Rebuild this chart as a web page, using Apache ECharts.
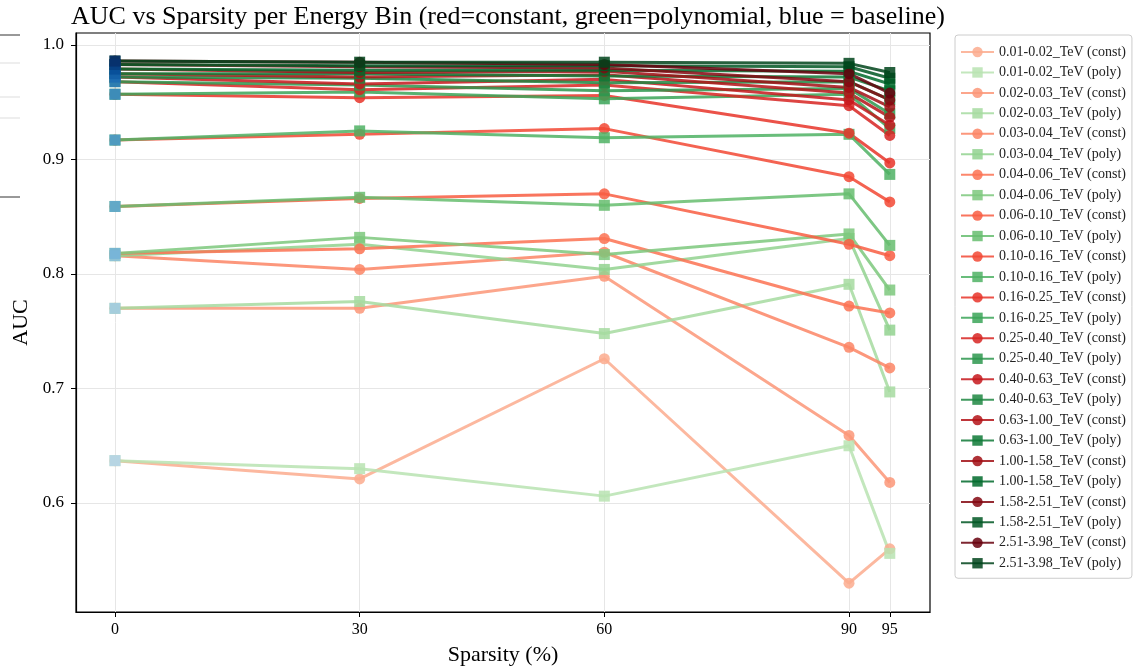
<!DOCTYPE html>
<html>
<head>
<meta charset="utf-8">
<script src="https://cdn.jsdelivr.net/npm/echarts@6/dist/echarts.min.js"></script>
<style>
html,body{margin:0;padding:0;background:#fff;}
#chart{width:1138px;height:668px;}
</style>
</head>
<body>
<div id="chart"></div>
<script>
// ---------------- DATA ----------------
const sparsity = [0, 30, 60, 90, 95];
const xTicks = [0, 30, 60, 90, 95];
const yTicks = [0.6, 0.7, 0.8, 0.9, 1.0];
const energyBins = ['0.01-0.02_TeV','0.02-0.03_TeV','0.03-0.04_TeV','0.04-0.06_TeV','0.06-0.10_TeV','0.10-0.16_TeV','0.16-0.25_TeV','0.25-0.40_TeV','0.40-0.63_TeV','0.63-1.00_TeV','1.00-1.58_TeV','1.58-2.51_TeV','2.51-3.98_TeV'];
const baselineAUC = [0.637, 0.770, 0.816, 0.818, 0.859, 0.917, 0.957, 0.968, 0.972, 0.975, 0.979, 0.983, 0.986];
const constAUC = [
  [0.637, 0.621, 0.726, 0.530, 0.560],
  [0.770, 0.770, 0.798, 0.659, 0.618],
  [0.816, 0.804, 0.819, 0.736, 0.718],
  [0.818, 0.822, 0.831, 0.772, 0.766],
  [0.859, 0.866, 0.870, 0.826, 0.816],
  [0.917, 0.922, 0.927, 0.885, 0.863],
  [0.957, 0.954, 0.956, 0.923, 0.897],
  [0.968, 0.961, 0.965, 0.947, 0.921],
  [0.972, 0.966, 0.970, 0.952, 0.930],
  [0.975, 0.972, 0.974, 0.958, 0.937],
  [0.979, 0.976, 0.977, 0.963, 0.946],
  [0.983, 0.981, 0.980, 0.968, 0.952],
  [0.986, 0.985, 0.983, 0.975, 0.958]
];
const polyAUC = [
  [0.637, 0.630, 0.606, 0.650, 0.556],
  [0.770, 0.776, 0.748, 0.791, 0.697],
  [0.816, 0.826, 0.804, 0.831, 0.751],
  [0.818, 0.832, 0.817, 0.835, 0.786],
  [0.859, 0.867, 0.860, 0.870, 0.825],
  [0.917, 0.925, 0.919, 0.922, 0.887],
  [0.957, 0.959, 0.953, 0.957, 0.927],
  [0.968, 0.965, 0.960, 0.962, 0.940],
  [0.972, 0.971, 0.967, 0.968, 0.952],
  [0.975, 0.975, 0.973, 0.972, 0.960],
  [0.979, 0.978, 0.978, 0.977, 0.966],
  [0.983, 0.982, 0.982, 0.981, 0.971],
  [0.986, 0.985, 0.985, 0.984, 0.976]
];

// ---------------- COLORS ----------------
const REDS = ['#fff5f0','#fee0d2','#fcbba1','#fc9272','#fb6a4a','#ef3b2c','#cb181d','#a50f15','#67000d'];
const GREENS = ['#f7fcf5','#e5f5e0','#c7e9c0','#a1d99b','#74c476','#41ab5d','#238b45','#006d2c','#00441b'];
const BLUES = ['#f7fbff','#deebf7','#c6dbef','#9ecae1','#6baed6','#4292c6','#2171b5','#08519c','#08306b'];
function hex2rgb(h){return [parseInt(h.substr(1,2),16),parseInt(h.substr(3,2),16),parseInt(h.substr(5,2),16)];}
function cmap(stops, t){
  const n = stops.length - 1;
  const p = Math.min(Math.max(t,0),1) * n;
  const i = Math.min(Math.floor(p), n-1);
  const f = p - i;
  const a = hex2rgb(stops[i]), b = hex2rgb(stops[i+1]);
  const c = a.map((v,k)=>Math.round(v + (b[k]-v)*f));
  return 'rgb(' + c.join(',') + ')';
}
const nb = energyBins.length;
const tpos = i => 0.3 + 0.7 * i / (nb - 1);

// ---------------- SERIES ----------------
const series = [];
const legendNames = [];
const FONT = '"Liberation Serif", "DejaVu Serif", serif';
energyBins.forEach((bin, i) => {
  const rc = cmap(REDS, tpos(i));
  const gc = cmap(GREENS, tpos(i));
  const cn = bin + ' (const)', pn = bin + ' (poly)';
  legendNames.push(cn, pn);
  series.push({
    name: cn, type: 'line', symbol: 'circle', symbolSize: 11,
    data: sparsity.map((s, j) => [s, constAUC[i][j]]),
    lineStyle: {color: rc, width: 3, opacity: 0.85},
    itemStyle: {color: rc, opacity: 0.85},
    emphasis: {disabled: true}
  });
  series.push({
    name: pn, type: 'line', symbol: 'rect', symbolSize: 11,
    data: sparsity.map((s, j) => [s, polyAUC[i][j]]),
    lineStyle: {color: gc, width: 3, opacity: 0.85},
    itemStyle: {color: gc, opacity: 0.85},
    emphasis: {disabled: true}
  });
});
series.push({
  name: 'baseline', type: 'scatter', symbol: 'rect', symbolSize: 11, z: 5,
  data: baselineAUC.map(v => [0, v]),
  itemStyle: {color: p => cmap(BLUES, tpos(p.dataIndex)), opacity: 0.9},
  emphasis: {disabled: true}
});

// ---------------- CHART ----------------
const chart = echarts.init(document.getElementById('chart'), null, {renderer: 'canvas'});
chart.setOption({
  animation: false,
  backgroundColor: '#fff',
  textStyle: {fontFamily: FONT},
  title: {
    text: 'AUC vs Sparsity per Energy Bin (red=constant, green=polynomial, blue = baseline)',
    left: 503, top: -1, textAlign: 'center',
    textStyle: {fontFamily: FONT, fontSize: 26, fontWeight: 'normal', color: '#000'}
  },
  grid: {left: 76, top: 33, width: 854, height: 579, outerBoundsMode: 'none', containLabel: false,
         show: true, borderColor: '#000', borderWidth: 1.2, backgroundColor: 'transparent'},
  xAxis: {
    type: 'value', min: -4.78, max: 99.93,
    name: 'Sparsity (%)', nameLocation: 'middle', nameGap: 32,
    nameTextStyle: {fontFamily: FONT, fontSize: 22, color: '#000'},
    axisLine: {show: true, onZero: false, lineStyle: {color: '#000', width: 1.2}},
    axisTick: {show: true, length: 5, customValues: xTicks, lineStyle: {color: '#000'}},
    axisLabel: {customValues: xTicks, margin: 10, fontFamily: FONT, fontSize: 16, color: '#000'},
    splitLine: {show: true, lineStyle: {color: '#e6e6e6', width: 1}}
  },
  yAxis: {
    type: 'value', min: 0.5048, max: 1.0105,
    name: 'AUC', nameLocation: 'middle', nameGap: 40, nameRotate: 90,
    nameTextStyle: {fontFamily: FONT, fontSize: 22, color: '#000'},
    axisLine: {show: true, onZero: false, lineStyle: {color: '#000', width: 1.2}},
    axisTick: {show: true, length: 5, customValues: yTicks, lineStyle: {color: '#000'}},
    axisLabel: {customValues: yTicks, margin: 12, fontFamily: FONT, fontSize: 17, color: '#000', formatter: v => v.toFixed(1)},
    splitLine: {show: true, lineStyle: {color: '#e6e6e6', width: 1}}
  },
  legend: {
    data: legendNames, orient: 'vertical', left: 955, top: 35,
    padding: [10, 6, 8, 5], itemWidth: 33, itemHeight: 13, itemGap: 6.45,
    backgroundColor: '#fff', borderColor: '#cccccc', borderWidth: 1, borderRadius: 3,
    textStyle: {fontFamily: FONT, fontSize: 14, color: '#222'},
    selectedMode: false
  },
  graphic: [
    {type: 'line', shape: {x1: 0, y1: 35, x2: 20, y2: 35}, style: {stroke: '#333', lineWidth: 1}},
    {type: 'line', shape: {x1: 0, y1: 63, x2: 20, y2: 63}, style: {stroke: '#ddd', lineWidth: 1}},
    {type: 'line', shape: {x1: 0, y1: 97, x2: 20, y2: 97}, style: {stroke: '#ddd', lineWidth: 1}},
    {type: 'line', shape: {x1: 0, y1: 118, x2: 20, y2: 118}, style: {stroke: '#ddd', lineWidth: 1}},
    {type: 'line', shape: {x1: 0, y1: 197, x2: 20, y2: 197}, style: {stroke: '#333', lineWidth: 1}}
  ],
  series: series
});
</script>
</body>
</html>
